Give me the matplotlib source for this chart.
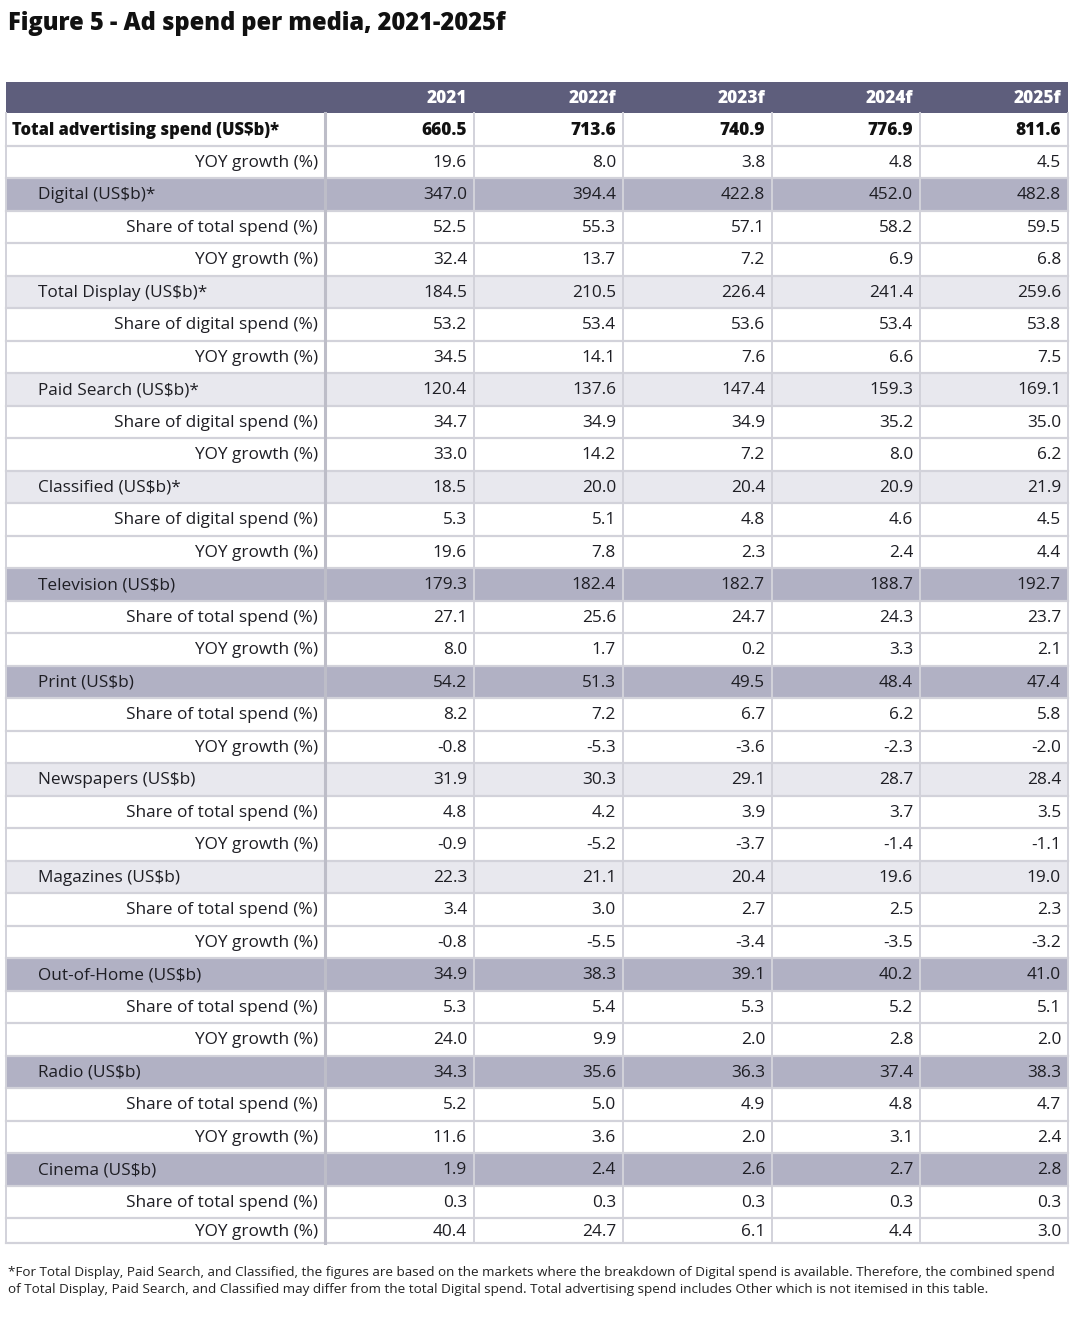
import matplotlib.pyplot as plt
from matplotlib.patches import Rectangle

# Column headers
years = ['2021', '2022f', '2023f', '2024f', '2025f']

# Row labels (kind: 'total', 'main', 'sub', 'detail')
labels = [
    'Total advertising spend (US$b)*', 'YOY growth (%)',
    'Digital (US$b)*', 'Share of total spend (%)', 'YOY growth (%)',
    'Total Display (US$b)*', 'Share of digital spend (%)', 'YOY growth (%)',
    'Paid Search (US$b)*', 'Share of digital spend (%)', 'YOY growth (%)',
    'Classified (US$b)*', 'Share of digital spend (%)', 'YOY growth (%)',
    'Television (US$b)', 'Share of total spend (%)', 'YOY growth (%)',
    'Print (US$b)', 'Share of total spend (%)', 'YOY growth (%)',
    'Newspapers (US$b)', 'Share of total spend (%)', 'YOY growth (%)',
    'Magazines (US$b)', 'Share of total spend (%)', 'YOY growth (%)',
    'Out-of-Home (US$b)', 'Share of total spend (%)', 'YOY growth (%)',
    'Radio (US$b)', 'Share of total spend (%)', 'YOY growth (%)',
    'Cinema (US$b)', 'Share of total spend (%)', 'YOY growth (%)',
]
kinds = (['total', 'detail', 'main', 'detail', 'detail']
         + ['sub', 'detail', 'detail'] * 3
         + ['main', 'detail', 'detail'] * 2
         + ['sub', 'detail', 'detail'] * 2
         + ['main', 'detail', 'detail'] * 3)

values = [
    ['660.5', '713.6', '740.9', '776.9', '811.6'],
    ['19.6', '8.0', '3.8', '4.8', '4.5'],
    ['347.0', '394.4', '422.8', '452.0', '482.8'],
    ['52.5', '55.3', '57.1', '58.2', '59.5'],
    ['32.4', '13.7', '7.2', '6.9', '6.8'],
    ['184.5', '210.5', '226.4', '241.4', '259.6'],
    ['53.2', '53.4', '53.6', '53.4', '53.8'],
    ['34.5', '14.1', '7.6', '6.6', '7.5'],
    ['120.4', '137.6', '147.4', '159.3', '169.1'],
    ['34.7', '34.9', '34.9', '35.2', '35.0'],
    ['33.0', '14.2', '7.2', '8.0', '6.2'],
    ['18.5', '20.0', '20.4', '20.9', '21.9'],
    ['5.3', '5.1', '4.8', '4.6', '4.5'],
    ['19.6', '7.8', '2.3', '2.4', '4.4'],
    ['179.3', '182.4', '182.7', '188.7', '192.7'],
    ['27.1', '25.6', '24.7', '24.3', '23.7'],
    ['8.0', '1.7', '0.2', '3.3', '2.1'],
    ['54.2', '51.3', '49.5', '48.4', '47.4'],
    ['8.2', '7.2', '6.7', '6.2', '5.8'],
    ['-0.8', '-5.3', '-3.6', '-2.3', '-2.0'],
    ['31.9', '30.3', '29.1', '28.7', '28.4'],
    ['4.8', '4.2', '3.9', '3.7', '3.5'],
    ['-0.9', '-5.2', '-3.7', '-1.4', '-1.1'],
    ['22.3', '21.1', '20.4', '19.6', '19.0'],
    ['3.4', '3.0', '2.7', '2.5', '2.3'],
    ['-0.8', '-5.5', '-3.4', '-3.5', '-3.2'],
    ['34.9', '38.3', '39.1', '40.2', '41.0'],
    ['5.3', '5.4', '5.3', '5.2', '5.1'],
    ['24.0', '9.9', '2.0', '2.8', '2.0'],
    ['34.3', '35.6', '36.3', '37.4', '38.3'],
    ['5.2', '5.0', '4.9', '4.8', '4.7'],
    ['11.6', '3.6', '2.0', '3.1', '2.4'],
    ['1.9', '2.4', '2.6', '2.7', '2.8'],
    ['0.3', '0.3', '0.3', '0.3', '0.3'],
    ['40.4', '24.7', '6.1', '4.4', '3.0'],
]

title = 'Figure 5 - Ad spend per media, 2021-2025f'
footnote = ('*For Total Display, Paid Search, and Classified, the figures are based on the markets where the breakdown of Digital spend is available. Therefore, the combined spend\n'
            'of Total Display, Paid Search, and Classified may differ from the total Digital spend. Total advertising spend includes Other which is not itemised in this table.')

plt.rcParams['font.family'] = ['Open Sans', 'DejaVu Sans']

W, H = 1080, 1318
fig = plt.figure(figsize=(W / 100, H / 100), dpi=100)
ax = fig.add_axes([0, 0, 1, 1])
ax.set_xlim(0, W)
ax.set_ylim(H, 0)
ax.axis('off')

header_col = '#5e5e7c'
main_col = '#b1b1c4'
sub_col = '#e8e8ee'
line_col = '#d2d2da'
text_col = '#1e1e24'

left, right = 6, 1068
col_edges = [6, 325, 474, 623, 772, 920, 1068]
header_top, header_bot = 82, 113
row_h = 32.5
n_rows = len(labels)
table_bot = header_bot + row_h * (n_rows - 1) + 25
fs = 12.4

ax.text(8, 23, title, fontsize=17, fontweight='heavy', color='#111111',
        va='center', ha='left')

# header
ax.add_patch(Rectangle((left, header_top), right - left, header_bot - header_top,
                       color=header_col, lw=0))
for j, y in enumerate(years):
    ax.text(col_edges[j + 2] - 7, (header_top + header_bot) / 2 + 1, y,
            fontsize=fs, fontweight='heavy', color='white', ha='right', va='center')

# rows
for i, (lab, kind) in enumerate(zip(labels, kinds)):
    top = header_bot + i * row_h
    bot = top + row_h if i < n_rows - 1 else table_bot
    mid = (top + bot) / 2 + 1
    fill = {'main': main_col, 'sub': sub_col}.get(kind)
    if fill:
        ax.add_patch(Rectangle((left, top), right - left, bot - top, color=fill, lw=0))
    ax.plot([left, right], [bot, bot], color=line_col, lw=1.6)
    weight = 'heavy' if kind == 'total' else 'normal'
    if kind == 'total':
        ax.text(12, mid, lab, fontsize=11.9, fontweight='heavy', color='#111111',
                ha='left', va='center')
    elif kind in ('main', 'sub'):
        ax.text(38, mid, lab, fontsize=fs, color=text_col, ha='left', va='center')
    else:
        ax.text(col_edges[1] - 7, mid, lab, fontsize=fs, color=text_col,
                ha='right', va='center')
    for j, v in enumerate(values[i]):
        ax.text(col_edges[j + 2] - 7, mid, v, fontsize=fs, fontweight=weight,
                color='#111111' if kind == 'total' else text_col,
                ha='right', va='center')

# vertical lines and outer border
for k, x in enumerate(col_edges):
    ax.plot([x, x], [header_bot, table_bot], color='#bdbdc8' if k == 1 else line_col,
            lw=2.2 if k == 1 else 1.4)

ax.text(8, 1281, footnote, fontsize=9.7, color='#222222', ha='left', va='center',
        linespacing=1.4)

fig.savefig('out.png', dpi=100)
